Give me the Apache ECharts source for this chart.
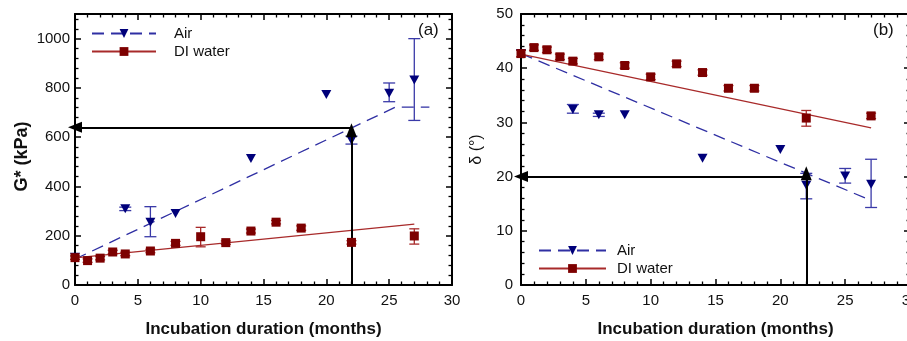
<!DOCTYPE html>
<html><head><meta charset="utf-8">
<script src="https://cdn.jsdelivr.net/npm/echarts@6/dist/echarts.min.js"></script>
<style>html,body{margin:0;padding:0;background:#fff}#c{width:907px;height:341px}</style>
</head><body><div id="c"></div>
<script>
// ---- data ----
const xTicks = [0, 5, 10, 15, 20, 25, 30];
const gTicks = [0, 200, 400, 600, 800, 1000];
const dTicks = [0, 10, 20, 30, 40, 50];

const airMonths = [0, 4, 6, 8, 14, 20, 22, 25, 27];
const airG      = [113, 310, 255, 290, 513, 773, 588, 778, 832];
const airGLow   = [113, 302, 196, 290, 513, 773, 572, 744, 668];
const airGHigh  = [113, 316, 318, 290, 513, 773, 604, 820, 1000];
const airDelta     = [42.7, 32.4, 31.4, 31.4, 23.4, 25.0, 18.4, 20.1, 18.6];
const airDeltaLow  = [42.7, 31.7, 31.1, 31.4, 23.4, 25.0, 15.9, 18.8, 14.3];
const airDeltaHigh = [42.7, 33.3, 31.7, 31.4, 23.4, 25.0, 20.6, 21.5, 23.2];

const waterMonths = [0, 1, 2, 3, 4, 6, 8, 10, 12, 14, 16, 18, 22, 27];
const waterG      = [111, 99, 109, 134, 126, 138, 169, 196, 172, 219, 255, 231, 173, 199];
const waterGLow   = [104, 92, 102, 127, 119, 131, 161, 155, 165, 211, 248, 222, 166, 166];
const waterGHigh  = [118, 106, 116, 141, 133, 145, 177, 234, 179, 227, 262, 240, 180, 228];
const waterDelta     = [42.7, 43.8, 43.4, 42.1, 41.3, 42.1, 40.5, 38.4, 40.8, 39.2, 36.3, 36.3, 30.8, 31.2];
const waterDeltaLow  = [42.1, 43.3, 42.9, 41.6, 40.8, 41.6, 40.0, 37.9, 40.3, 38.7, 35.8, 35.8, 29.3, 30.7];
const waterDeltaHigh = [43.3, 44.3, 43.9, 42.6, 41.8, 42.6, 41.0, 38.9, 41.3, 39.7, 36.8, 36.8, 32.2, 31.7];

const airGFitX = [0, 25.5, 28.2];
const airGFitY = [105, 722, 722];
const waterGFitX = [0, 27];
const waterGFitY = [110, 247];
const airDeltaFitX = [0, 27];
const airDeltaFitY = [42.7, 15.6];
const waterDeltaFitX = [0, 27];
const waterDeltaFitY = [42.6, 29.0];

const guideMonth = 22;
const guideG = 640;
const guideDelta = 20;
const guideDeltaTip = 20.6;

// ---- styling ----
const NAVY = '#00007a';
const BLUE_LINE = '#2f2fa3';
const BLUE_ERR = '#3a3aa8';
const MAROON = '#7d0000';
const RED_LINE = '#a82a2a';
const FONT = '"Liberation Sans", Arial, sans-serif';

const zip = (xs, ys) => xs.map((x, i) => [x, ys[i]]);
const zip3 = (xs, a, b) => xs.map((x, i) => [x, a[i], b[i]]);

function errRender(color, capW) {
  return function (params, api) {
    const x = api.value(0), lo = api.value(1), hi = api.value(2);
    if (hi - lo <= 0) return null;
    const a = api.coord([x, lo]), b = api.coord([x, hi]);
    const hw = capW / 2;
    const style = { stroke: color, lineWidth: 1.3 };
    return { type: 'group', children: [
      { type: 'line', shape: { x1: a[0], y1: a[1], x2: b[0], y2: b[1] }, style },
      { type: 'line', shape: { x1: a[0] - hw, y1: a[1], x2: a[0] + hw, y2: a[1] }, style },
      { type: 'line', shape: { x1: b[0] - hw, y1: b[1], x2: b[0] + hw, y2: b[1] }, style }
    ]};
  };
}

function xAx(grid, pos, show) {
  return {
    type: 'value', gridIndex: grid, position: pos, min: 0, max: 30, interval: 5,
    axisLine: { show: true, onZero: false, lineStyle: { color: '#000', width: 2 } },
    axisTick: { show: true, inside: true, length: 6, lineStyle: { color: '#000', width: 1.5 } },
    minorTick: { show: true, splitNumber: 5, length: 3.5, lineStyle: { color: '#000', width: 1.3 } },
    splitLine: { show: false },
    axisLabel: { show: show, fontSize: 15, color: '#111', fontFamily: FONT, margin: 8,
      formatter: v => xTicks.includes(v) ? String(v) : '' },
    name: show ? 'Incubation duration (months)' : '',
    nameLocation: 'middle', nameGap: 36,
    nameTextStyle: { fontSize: 17, fontWeight: 'bold', color: '#111', fontFamily: FONT }
  };
}
function yAx(grid, pos, show, max, interval, ticks, name, nameStyle, margin, gap) {
  return {
    type: 'value', gridIndex: grid, position: pos, min: 0, max: max, interval: interval,
    axisLine: { show: true, onZero: false, lineStyle: { color: '#000', width: 2 } },
    axisTick: { show: true, inside: true, length: 6, lineStyle: { color: '#000', width: 1.5 } },
    minorTick: { show: true, splitNumber: 5, length: 3.5, lineStyle: { color: '#000', width: 1.3 } },
    splitLine: { show: false },
    axisLabel: { show: show, fontSize: 15, color: '#111', fontFamily: FONT, margin: margin,
      formatter: v => ticks.includes(v) ? String(v) : '' },
    name: show ? name : '', nameLocation: 'middle', nameGap: gap,
    nameTextStyle: nameStyle
  };
}

const arrowMark = (x0, y0, x1, y1) => [
  { coord: [x0, y0], symbol: 'none' },
  { coord: [x1, y1], symbol: 'triangle', symbolSize: [11, 14] }
];

const option = {
  animation: false,
  backgroundColor: '#fff',
  grid: [
    { left: 75, top: 14, width: 377, height: 271, outerBoundsMode: 'none', containLabel: false },
    { left: 521, top: 14, width: 389, height: 271, outerBoundsMode: 'none', containLabel: false }
  ],
  xAxis: [xAx(0, 'bottom', true), xAx(0, 'top', false), xAx(1, 'bottom', true), xAx(1, 'top', false)],
  yAxis: [
    yAx(0, 'left', true, 1100, 200, gTicks, 'G* (kPa)',
      { fontSize: 18, fontWeight: 'bold', color: '#111', fontFamily: FONT, padding: [0, 14, 0, 0] }, 5, 44),
    yAx(0, 'right', false, 1100, 200, gTicks, '', {}, 5, 40),
    yAx(1, 'left', true, 50, 10, dTicks, 'δ (°)',
      { fontSize: 16, color: '#111', fontFamily: FONT }, 8, 36),
    yAx(1, 'right', false, 50, 10, dTicks, '', {}, 8, 40)
  ],
  legend: [
    { left: 91, top: 26, orient: 'vertical', padding: 0, itemGap: 3, itemWidth: 64, itemHeight: 11,
      selectedMode: false, data: ['Air', 'DI water'],
      textStyle: { fontSize: 15, color: '#111', fontFamily: FONT, padding: [0, 0, 0, 13] } },
    { left: 538, top: 243, orient: 'vertical', padding: 0, itemGap: 3, itemWidth: 67, itemHeight: 11,
      selectedMode: false, data: ['Air', 'DI water'],
      textStyle: { fontSize: 15, color: '#111', fontFamily: FONT, padding: [0, 0, 0, 6] } }
  ],
  graphic: [
    { type: 'text', left: 418, top: 22, style: { text: '(a)', fontSize: 17, fill: '#111', fontFamily: FONT } },
    { type: 'text', left: 873, top: 22, style: { text: '(b)', fontSize: 17, fill: '#111', fontFamily: FONT } }
  ],
  series: [
    // trend lines (first, so legend icons come from them)
    { name: 'Air', type: 'line', xAxisIndex: 0, yAxisIndex: 0, data: zip(airGFitX, airGFitY),
      showSymbol: false, symbol: 'triangle', symbolRotate: 180, symbolSize: [10, 9],
      itemStyle: { color: NAVY }, lineStyle: { color: BLUE_LINE, width: 1.3, type: [12, 7] }, z: 2, silent: true },
    { name: 'DI water', type: 'line', xAxisIndex: 0, yAxisIndex: 0, data: zip(waterGFitX, waterGFitY),
      showSymbol: false, symbol: 'rect', symbolSize: 9,
      itemStyle: { color: MAROON }, lineStyle: { color: RED_LINE, width: 1.2 }, z: 2, silent: true },
    { name: 'Air', type: 'line', xAxisIndex: 2, yAxisIndex: 2, data: zip(airDeltaFitX, airDeltaFitY),
      showSymbol: false, symbol: 'triangle', symbolRotate: 180, symbolSize: [10, 9],
      itemStyle: { color: NAVY }, lineStyle: { color: BLUE_LINE, width: 1.3, type: [12, 7] }, z: 2, silent: true },
    { name: 'DI water', type: 'line', xAxisIndex: 2, yAxisIndex: 2, data: zip(waterDeltaFitX, waterDeltaFitY),
      showSymbol: false, symbol: 'rect', symbolSize: 9,
      itemStyle: { color: MAROON }, lineStyle: { color: RED_LINE, width: 1.2 }, z: 2, silent: true },
    // error bars
    { type: 'custom', xAxisIndex: 0, yAxisIndex: 0, data: zip3(airMonths, airGLow, airGHigh),
      renderItem: errRender(BLUE_ERR, 12), encode: { x: 0, y: [1, 2] }, z: 3, silent: true, clip: false },
    { type: 'custom', xAxisIndex: 0, yAxisIndex: 0, data: zip3(waterMonths, waterGLow, waterGHigh),
      renderItem: errRender(RED_LINE, 10), encode: { x: 0, y: [1, 2] }, z: 3, silent: true, clip: false },
    { type: 'custom', xAxisIndex: 2, yAxisIndex: 2, data: zip3(airMonths, airDeltaLow, airDeltaHigh),
      renderItem: errRender(BLUE_ERR, 12), encode: { x: 0, y: [1, 2] }, z: 3, silent: true, clip: false },
    { type: 'custom', xAxisIndex: 2, yAxisIndex: 2, data: zip3(waterMonths, waterDeltaLow, waterDeltaHigh),
      renderItem: errRender(RED_LINE, 10), encode: { x: 0, y: [1, 2] }, z: 3, silent: true, clip: false },
    // markers
    { name: 'Air', type: 'scatter', xAxisIndex: 0, yAxisIndex: 0, data: zip(airMonths, airG),
      symbol: 'triangle', symbolRotate: 180, symbolSize: [10, 9], itemStyle: { color: NAVY, opacity: 1 }, z: 4, silent: true },
    { name: 'DI water', type: 'scatter', xAxisIndex: 0, yAxisIndex: 0, data: zip(waterMonths, waterG),
      symbol: 'rect', symbolSize: 9, itemStyle: { color: MAROON, opacity: 1 }, z: 5, silent: true },
    { name: 'Air', type: 'scatter', xAxisIndex: 2, yAxisIndex: 2, data: zip(airMonths, airDelta),
      symbol: 'triangle', symbolRotate: 180, symbolSize: [10, 9], itemStyle: { color: NAVY, opacity: 1 }, z: 4, silent: true },
    { name: 'DI water', type: 'scatter', xAxisIndex: 2, yAxisIndex: 2, data: zip(waterMonths, waterDelta),
      symbol: 'rect', symbolSize: 9, itemStyle: { color: MAROON, opacity: 1 }, z: 5, silent: true },
    // guide arrows
    { type: 'line', xAxisIndex: 0, yAxisIndex: 0, data: [], z: 10, silent: true,
      markLine: { silent: true, animation: false, label: { show: false },
        lineStyle: { color: '#000', width: 2, type: 'solid' }, emphasis: { disabled: true },
        data: [arrowMark(guideMonth, 0, guideMonth, guideG - 12), arrowMark(guideMonth, guideG, 0, guideG)] } },
    { type: 'line', xAxisIndex: 2, yAxisIndex: 2, data: [], z: 10, silent: true,
      markLine: { silent: true, animation: false, label: { show: false },
        lineStyle: { color: '#000', width: 2, type: 'solid' }, emphasis: { disabled: true },
        data: [arrowMark(guideMonth, 0, guideMonth, guideDeltaTip), arrowMark(guideMonth, guideDelta, 0, guideDelta)] } }
  ]
};
const chart = echarts.init(document.getElementById('c'), null, { renderer: 'canvas' });
chart.setOption(option);
</script></body></html>
